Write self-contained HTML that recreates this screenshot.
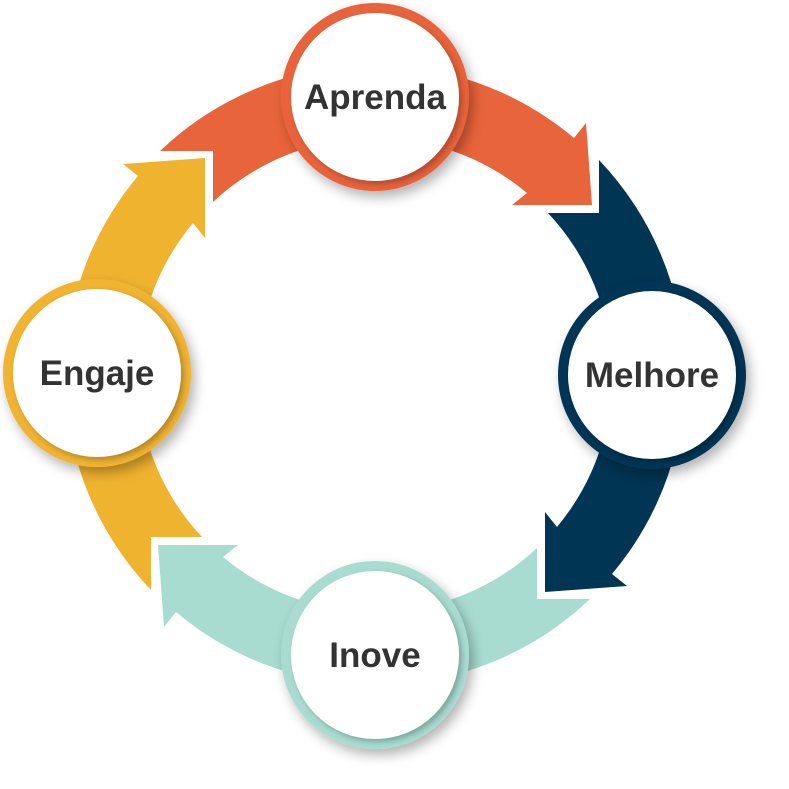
<!DOCTYPE html>
<html><head><meta charset="utf-8"><style>
html,body{margin:0;padding:0;background:#fff;width:789px;height:789px;overflow:hidden}
svg{display:block}
text{font-family:"Liberation Sans",sans-serif;font-weight:bold;font-size:35px;fill:#333}
</style></head><body>
<svg id="s" width="789" height="789" viewBox="0 0 789 789">
<defs>
<filter id="sh" x="-30%" y="-30%" width="160%" height="160%">
<feDropShadow dx="4" dy="6" stdDeviation="6" flood-color="#000" flood-opacity="0.3"/>
</filter>
<filter id="sh2" x="-30%" y="-30%" width="160%" height="160%">
<feDropShadow dx="3" dy="3" stdDeviation="3" flood-color="#000" flood-opacity="0.25"/>
</filter>
</defs>
<g id="arrows"></g>
<g id="circles"></g>
</svg>
<script>
var C=[375,375];
function rot(p,k){var x=p[0],y=p[1];for(var i=0;i<k;i++){var t=x;x=-y;y=t;}return [x+C[0],y+C[1]];}
function f(p){return p[0].toFixed(1)+","+p[1].toFixed(1);}
var cols=["#E8643A","#003554","#A8DCD1","#F0B330"];
var base=[[-215,-224],[199,-237],[211,-252],[217,-170],[137,-170],[152,-182],[-162,-173],[-162,-224]];
var g=document.getElementById("arrows"),h="";
for(var k=0;k<4;k++){
 var P=base.map(function(p){return rot(p,k);});
 var d="M"+f(P[0])+" A310,310 0 0 1 "+f(P[1])+" L"+f(P[2])+" L"+f(P[3])+" L"+f(P[4])+" L"+f(P[5])+" A237,237 0 0 0 "+f(P[6])+" L"+f(P[7])+" Z";
 h+='<path d="'+d+'" fill="'+cols[k]+'"/>';
}
g.innerHTML=h;
var cs=[[375,97,"#E8643A","Aprenda"],[652,375,"#003554","Melhore"],[375,655,"#A8DCD1","Inove"],[97,373,"#F0B330","Engaje"]];
var c="";
cs.forEach(function(q){
 c+='<circle cx="'+q[0]+'" cy="'+q[1]+'" r="94" fill="'+q[2]+'" filter="url(#sh)"/>';
 c+='<circle cx="'+q[0]+'" cy="'+q[1]+'" r="84" fill="#fff" filter="url(#sh2)"/>';
 c+='<text x="'+q[0]+'" y="'+(q[1]+12)+'" text-anchor="middle">'+q[3]+'</text>';
});
document.getElementById("circles").innerHTML=c;
</script>
</body></html>
